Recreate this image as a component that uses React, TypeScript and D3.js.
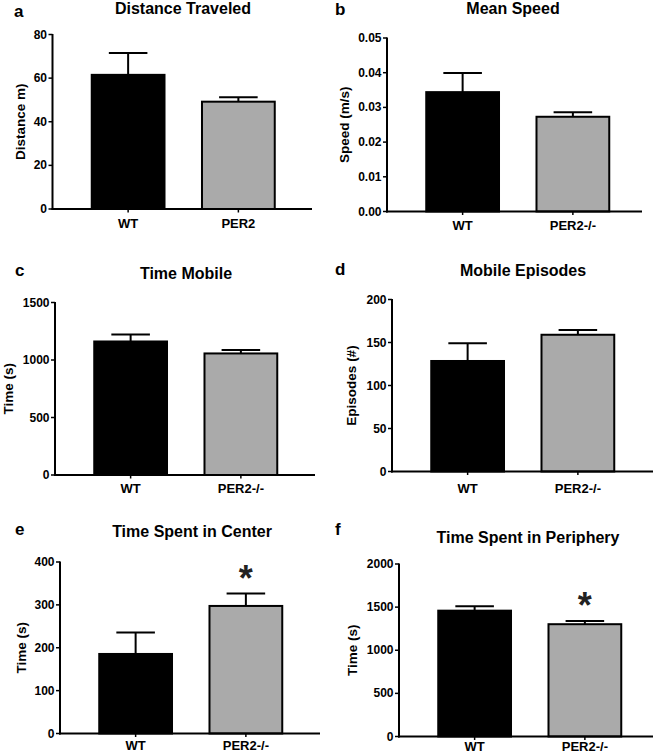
import React from "react";
import * as d3 from "d3";

// ---- data ----
const groupsA = ["WT", "PER2"];
const groups = ["WT", "PER2-/-"];

const distanceMean = [61.5, 49.2];
const distanceSem = [10.0, 2.0];
const distanceTicks = [0, 20, 40, 60, 80];

const speedMean = [0.0344, 0.0273];
const speedSem = [0.0055, 0.0013];
const speedTicks = [0, 0.01, 0.02, 0.03, 0.04, 0.05];

const mobileMean = [1161, 1057];
const mobileSem = [61, 31];
const mobileTicks = [0, 500, 1000, 1500];

const episodesMean = [128.5, 159];
const episodesSem = [20.5, 5.5];
const episodesTicks = [0, 50, 100, 150, 200];

const centerMean = [185.5, 297.5];
const centerSem = [50, 29];
const centerTicks = [0, 100, 200, 300, 400];

const peripheryMean = [1459, 1302];
const peripherySem = [51, 38];
const peripheryTicks = [0, 500, 1000, 1500, 2000];

const titles = [
  "Distance Traveled",
  "Mean Speed",
  "Time Mobile",
  "Mobile Episodes",
  "Time Spent in Center",
  "Time Spent in Periphery",
];
const yLabels = ["Distance m)", "Speed (m/s)", "Time (s)", "Episodes (#)", "Time (s)", "Time (s)"];
const letters = ["a", "b", "c", "d", "e", "f"];
const significant = [
  [false, false],
  [false, false],
  [false, false],
  [false, false],
  [false, true],
  [false, true],
];

const FONT = "'Liberation Sans', Arial, Helvetica, sans-serif";
const fills = ["#000000", "#aaaaaa"];

type Layout = {
  axisX: number;
  top: number;
  bottom: number;
  right: number;
  titleX: number;
  titleY: number;
  letterX: number;
  letterY: number;
  yLabelX: number;
  xLabelY: number;
};

const layouts: Layout[] = [
  { axisX: 52.5, top: 34.5, bottom: 209, right: 312, titleX: 183, titleY: 14, letterX: 14, letterY: 16.5, yLabelX: 20.5, xLabelY: 228 },
  { axisX: 387, top: 38, bottom: 211.5, right: 642, titleX: 513, titleY: 14, letterX: 335, letterY: 15, yLabelX: 344, xLabelY: 230 },
  { axisX: 55, top: 302.5, bottom: 475, right: 315, titleX: 186, titleY: 279, letterX: 15, letterY: 276, yLabelX: 8.5, xLabelY: 493 },
  { axisX: 392, top: 299.5, bottom: 471.5, right: 653, titleX: 523, titleY: 275.5, letterX: 335, letterY: 275, yLabelX: 351.5, xLabelY: 493 },
  { axisX: 60, top: 562, bottom: 733.5, right: 320, titleX: 192, titleY: 536.5, letterX: 15, letterY: 535, yLabelX: 21.5, xLabelY: 750 },
  { axisX: 399, top: 564, bottom: 736.5, right: 653, titleX: 528, titleY: 542.5, letterX: 335, letterY: 535, yLabelX: 352.5, xLabelY: 751 },
];

const panelData = [
  { cats: groupsA, mean: distanceMean, sem: distanceSem, ticks: distanceTicks, fmt: d3.format("d") },
  { cats: groups, mean: speedMean, sem: speedSem, ticks: speedTicks, fmt: d3.format(".2f") },
  { cats: groups, mean: mobileMean, sem: mobileSem, ticks: mobileTicks, fmt: d3.format("d") },
  { cats: groups, mean: episodesMean, sem: episodesSem, ticks: episodesTicks, fmt: d3.format("d") },
  { cats: groups, mean: centerMean, sem: centerSem, ticks: centerTicks, fmt: d3.format("d") },
  { cats: groups, mean: peripheryMean, sem: peripherySem, ticks: peripheryTicks, fmt: d3.format("d") },
];

function Panel({ idx }: { idx: number }) {
  const L = layouts[idx];
  const D = panelData[idx];
  const y = d3
    .scaleLinear()
    .domain([0, D.ticks[D.ticks.length - 1]])
    .range([L.bottom, L.top]);
  const x = d3
    .scaleBand<string>()
    .domain(D.cats)
    .range([L.axisX + 20.5, L.axisX + 241])
    .paddingInner(0.34)
    .paddingOuter(0.17);
  const bw = x.bandwidth();
  const capW = bw * 0.53;
  const midY = (L.top + L.bottom) / 2;
  return (
    <g>
      <text x={L.letterX} y={L.letterY} fontFamily={FONT} fontWeight="bold" fontSize={17}>
        {letters[idx]}
      </text>
      <text x={L.titleX} y={L.titleY} fontFamily={FONT} fontWeight="bold" fontSize={16} textAnchor="middle">
        {titles[idx]}
      </text>
      <text
        transform={`translate(${L.yLabelX},${midY}) rotate(-90)`}
        fontFamily={FONT}
        fontWeight="bold"
        fontSize={13.5}
        textAnchor="middle"
        dominantBaseline="central"
      >
        {yLabels[idx]}
      </text>
      {/* bars */}
      {D.cats.map((c, i) => {
        const x0 = x(c)!;
        const cx = x0 + bw / 2;
        const yTop = y(D.mean[i]);
        const yErr = y(D.mean[i] + D.sem[i]);
        return (
          <g key={c}>
            <line x1={cx} x2={cx} y1={yTop} y2={yErr} stroke="#000" strokeWidth={2} />
            <line x1={cx - capW / 2} x2={cx + capW / 2} y1={yErr} y2={yErr} stroke="#000" strokeWidth={2} />
            <rect
              x={x0}
              y={yTop}
              width={bw}
              height={L.bottom - yTop}
              fill={fills[i]}
              stroke="#000"
              strokeWidth={2}
            />
            {significant[idx][i] && (
              <text
                x={cx}
                y={yErr - 23 + 20.5}
                fontFamily={FONT}
                fontWeight="bold"
                fontSize={36}
                textAnchor="middle"
                fill="#222"
              >
                *
              </text>
            )}
            <line x1={cx} x2={cx} y1={L.bottom} y2={L.bottom + 3.5} stroke="#000" strokeWidth={1.5} />
            <text
              x={cx}
              y={L.xLabelY}
              fontFamily={FONT}
              fontWeight="bold"
              fontSize={13}
              textAnchor="middle"
            >
              {c}
            </text>
          </g>
        );
      })}
      {/* y axis */}
      <line x1={L.axisX} x2={L.axisX} y1={L.top - 0.5} y2={L.bottom + 1} stroke="#000" strokeWidth={2} />
      {D.ticks.map((t) => (
        <g key={t}>
          <line x1={L.axisX - 4} x2={L.axisX} y1={y(t)} y2={y(t)} stroke="#000" strokeWidth={1.5} />
          <text
            x={L.axisX - 5.5}
            y={y(t)}
            fontFamily={FONT}
            fontWeight="bold"
            fontSize={12}
            textAnchor="end"
            dominantBaseline="central"
          >
            {D.fmt(t)}
          </text>
        </g>
      ))}
      {/* x axis */}
      <line x1={L.axisX - 1} x2={L.right} y1={L.bottom} y2={L.bottom} stroke="#000" strokeWidth={2} />
    </g>
  );
}

export default function App() {
  return (
    <svg width={660} height={756} style={{ position: "absolute", left: 0, top: 0, background: "#fff" }}>
      <rect width={660} height={756} fill="#fff" />
      {layouts.map((_, i) => (
        <Panel key={i} idx={i} />
      ))}
    </svg>
  );
}
